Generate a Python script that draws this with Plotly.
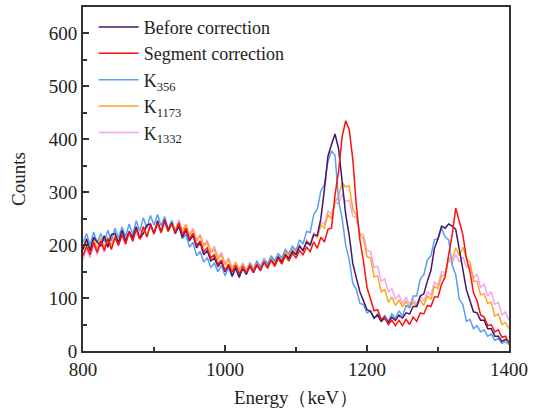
import plotly.graph_objects as go

energy = list(range(800, 1401, 5))

before = [
    192, 212, 190, 215, 206, 198, 218, 196, 220, 222,
    205, 228, 208, 226, 214, 235, 212, 222, 238, 240,
    222, 246, 225, 248, 228, 242, 222, 236, 215, 228,
    208, 218, 195, 205, 182, 190, 170, 176, 160, 168,
    150, 162, 142, 158, 140, 156, 145, 160, 148, 162,
    152, 168, 158, 172, 162, 178, 168, 182, 175, 188,
    182, 198, 190, 206, 200, 220, 218, 250, 305, 368,
    390, 410, 382, 325, 258, 218, 165, 138, 112, 95,
    78, 75, 62, 68, 56, 62, 54, 64, 58, 68,
    62, 72, 70, 84, 84, 104, 108, 132, 152, 194,
    212, 236, 232, 240, 236, 230, 192, 156, 116, 95,
    74, 72, 58, 58, 42, 42, 28, 28, 18, 22,
    18,
]

segment = [
    180, 198, 182, 205, 186, 208, 190, 212, 192, 214,
    200, 220, 202, 225, 208, 230, 212, 235, 216, 238,
    222, 242, 224, 246, 226, 240, 224, 242, 220, 232,
    212, 222, 200, 208, 188, 195, 176, 182, 164, 172,
    152, 164, 150, 162, 146, 158, 148, 162, 150, 164,
    152, 168, 156, 172, 160, 175, 164, 180, 170, 184,
    176, 190, 182, 196, 188, 206, 194, 215, 206, 230,
    232, 295, 340, 405, 435, 418, 362, 275, 210, 170,
    120, 100, 76, 78, 60, 64, 50, 58, 48, 58,
    48, 60, 50, 64, 56, 72, 70, 86, 84, 102,
    102, 126, 140, 182, 220, 270, 245, 220, 175, 150,
    110, 95, 68, 64, 48, 50, 36, 40, 26, 28,
    15,
]

k356 = [
    205, 222, 200, 225, 204, 222, 206, 228, 208, 232,
    214, 235, 216, 240, 220, 246, 226, 252, 232, 256,
    238, 258, 236, 254, 230, 246, 222, 238, 212, 220,
    196, 205, 180, 188, 168, 176, 158, 166, 150, 162,
    142, 158, 140, 156, 138, 162, 144, 165, 150, 170,
    158, 172, 165, 180, 170, 184, 176, 192, 184, 198,
    190, 210, 202, 226, 224, 258, 268, 302, 315, 358,
    378, 370, 285, 250, 200, 172, 128, 116, 90, 88,
    72, 76, 62, 70, 56, 68, 56, 70, 62, 76,
    66, 86, 82, 104, 104, 136, 144, 172, 180, 210,
    212, 232, 216, 210, 162, 144, 98, 88, 56, 60,
    42, 48, 36, 40, 28, 32, 20, 24, 14, 18,
    12,
]

k1173 = [
    190, 206, 188, 212, 192, 214, 196, 216, 200, 218,
    202, 222, 204, 226, 210, 232, 212, 235, 216, 238,
    222, 242, 224, 245, 226, 246, 228, 244, 226, 238,
    218, 228, 208, 218, 198, 205, 186, 192, 174, 182,
    164, 172, 156, 166, 154, 164, 153, 166, 156, 168,
    158, 172, 162, 176, 168, 180, 172, 186, 180, 192,
    184, 198, 190, 208, 200, 220, 214, 238, 232, 258,
    250, 282, 292, 318, 310, 312, 268, 256, 220, 212,
    178, 176, 140, 142, 112, 116, 92, 102, 86, 96,
    84, 94, 82, 92, 84, 96, 86, 104, 98, 122,
    118, 142, 144, 176, 174, 195, 180, 196, 176, 168,
    132, 132, 106, 108, 90, 92, 66, 70, 50, 54,
    42,
]

k1332 = [
    172, 195, 176, 202, 182, 206, 186, 212, 192, 216,
    198, 220, 202, 225, 206, 232, 210, 235, 214, 240,
    220, 244, 222, 248, 226, 246, 226, 248, 228, 240,
    220, 232, 210, 220, 200, 210, 188, 198, 178, 186,
    166, 176, 158, 168, 156, 166, 154, 168, 158, 170,
    160, 176, 164, 178, 170, 184, 174, 188, 182, 194,
    186, 200, 192, 210, 202, 224, 216, 244, 240, 265,
    258, 282, 278, 296, 282, 285, 255, 252, 222, 220,
    190, 188, 158, 160, 132, 136, 112, 118, 98, 106,
    90, 102, 88, 98, 88, 104, 94, 112, 106, 130,
    124, 150, 148, 172, 166, 182, 168, 178, 158, 162,
    138, 145, 120, 126, 104, 112, 88, 92, 68, 74,
    58,
]

series_names = ["Before correction", "Segment correction",
                "K<sub>356</sub>", "K<sub>1173</sub>", "K<sub>1332</sub>"]
series_values = [before, segment, k356, k1173, k1332]
series_colors = ["#43166c", "#ff1010", "#5c9ff2", "#ffa526", "#f0a6f0"]
draw_order = [4, 3, 2, 0, 1]

FONT = "Liberation Serif, Times New Roman, serif"

fig = go.Figure()
for i in draw_order:
    fig.add_trace(go.Scatter(
        x=energy, y=series_values[i], mode="lines", name=series_names[i],
        line=dict(color=series_colors[i], width=1.5),
        legendrank=i + 1,
    ))

axis_common = dict(
    showline=True, linecolor="#333333", linewidth=1.8, mirror=True,
    ticks="inside", tickcolor="#333333", tickwidth=1.5, ticklen=6,
    showgrid=False, zeroline=False,
    tickfont=dict(family=FONT, size=19, color="#222222"),
)

fig.update_layout(
    width=533, height=416,
    margin=dict(l=83, r=21, t=5, b=65),
    paper_bgcolor="white", plot_bgcolor="white",
    font=dict(family=FONT, size=19, color="#222222"),
    showlegend=True,
    legend=dict(
        x=0.025, y=0.995, xanchor="left", yanchor="top",
        bgcolor="rgba(0,0,0,0)", font=dict(family=FONT, size=18, color="#222222"),
        tracegroupgap=0, itemwidth=40,
    ),
    xaxis=dict(
        range=[800, 1400], tickvals=[800, 1000, 1200, 1400],
        minor=dict(tickvals=[900, 1100, 1300], ticks="inside", ticklen=4,
                   tickcolor="#333333", tickwidth=1.5),
        title=dict(text="Energy（keV）", font=dict(family=FONT, size=19), standoff=12),
        **axis_common,
    ),
    yaxis=dict(
        range=[0, 650], tickvals=[0, 100, 200, 300, 400, 500, 600],
        minor=dict(tickvals=[50, 150, 250, 350, 450, 550], ticks="inside", ticklen=4,
                   tickcolor="#333333", tickwidth=1.5),
        title=dict(text="Counts", font=dict(family=FONT, size=19), standoff=18),
        **axis_common,
    ),
)

fig.write_html("out.html")
